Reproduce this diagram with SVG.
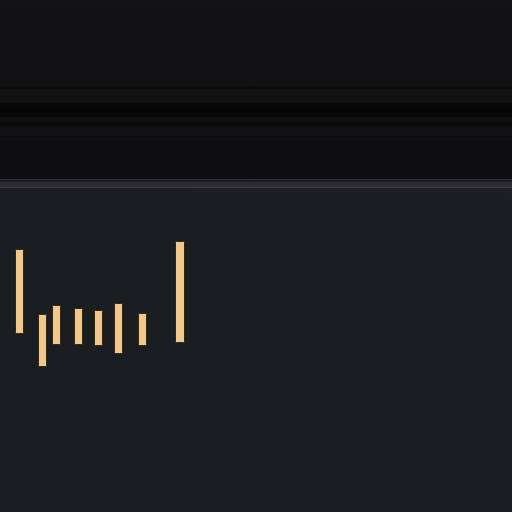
<svg xmlns="http://www.w3.org/2000/svg" width="512" height="512" viewBox="0 0 512 512">
<defs>
<linearGradient id="top" x1="0" y1="0" x2="0" y2="1">
<stop offset="0" stop-color="#131315"/>
<stop offset="1" stop-color="#0e0e10"/>
</linearGradient>
<linearGradient id="low" x1="1" y1="0" x2="0" y2="1">
<stop offset="0" stop-color="#1b1e22"/>
<stop offset="1" stop-color="#1a1e20"/>
</linearGradient>
<style>
.bar{fill:#f0c88c;stroke:#33260f;stroke-width:1}
</style>
</defs>
<rect x="0" y="0" width="512" height="182" fill="url(#top)"/>
<g id="stripes">
<rect x="0" y="86" width="512" height="3" fill="#0a0a0b"/>
<rect x="0" y="90" width="512" height="12" fill="#121213"/>
<rect x="0" y="103" width="512" height="14" fill="#08080a"/>
<rect x="0" y="108" width="512" height="4" fill="#050506"/>
<rect x="0" y="117" width="512" height="5" fill="#101011"/>
<rect x="0" y="122" width="512" height="4" fill="#09090a"/>
<rect x="0" y="126" width="512" height="10" fill="#111113"/>
<rect x="0" y="136" width="512" height="2" fill="#0b0b0c"/>
</g>
<rect x="0" y="182" width="512" height="330" fill="url(#low)"/>
<g id="edge">
<rect x="0" y="179" width="512" height="1.5" fill="#303136"/>
<rect x="0" y="180.5" width="512" height="1" fill="#18181b"/>
<rect x="0" y="181.5" width="512" height="5" fill="#2a2b30"/>
<rect x="0" y="186.5" width="512" height="1.5" fill="#38393e"/>
<rect x="0" y="188" width="512" height="3" fill="#1d1f23"/>
</g>
<g id="bars">
<rect class="bar" x="15.5" y="249.5" width="8" height="84" rx="1"/>
<rect class="bar" x="38.5" y="314.5" width="8" height="52" rx="1"/>
<rect class="bar" x="52.5" y="305.5" width="8" height="39" rx="1"/>
<rect class="bar" x="74.5" y="308.5" width="8" height="36" rx="1"/>
<rect class="bar" x="94.5" y="310.5" width="8" height="35" rx="1"/>
<rect class="bar" x="114.5" y="303.5" width="8" height="50" rx="1"/>
<rect class="bar" x="138.5" y="313.5" width="8" height="32" rx="1"/>
<rect class="bar" x="175.5" y="241.5" width="9" height="101" rx="1"/>
</g>
</svg>
